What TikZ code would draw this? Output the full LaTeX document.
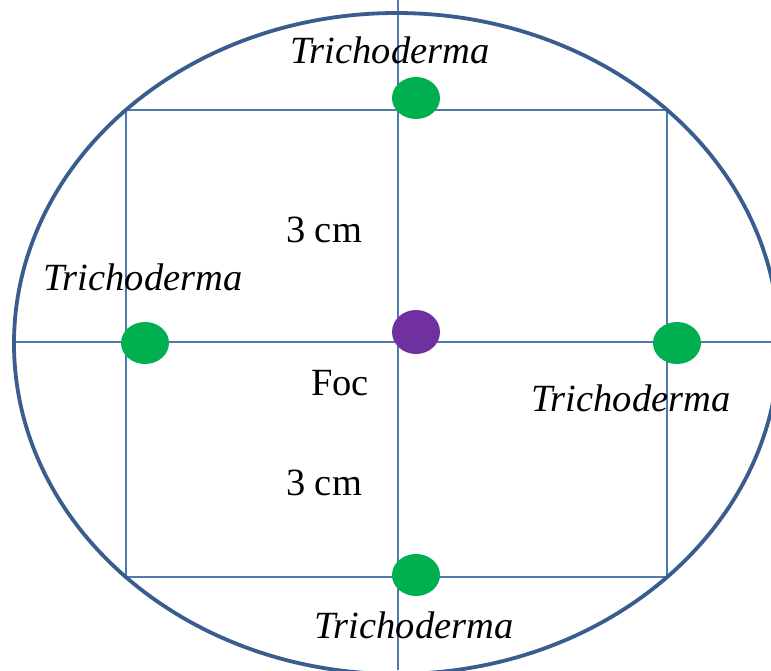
\documentclass[tikz,border=0pt]{standalone}
\usepackage{fontspec}
\setmainfont{Liberation Serif}
\usetikzlibrary{shapes.geometric}
\definecolor{gridblue}{HTML}{5079B0}
\definecolor{rimblue}{HTML}{3A5D8F}
\definecolor{trgreen}{HTML}{00B050}
\definecolor{focpurple}{HTML}{7030A0}
\tikzset{
  gridline/.style={draw=gridblue, line width=1.4pt},
  rim/.style={draw=rimblue, line width=3.8pt},
  greendot/.style={ellipse, fill=trgreen, minimum width=48pt, minimum height=42pt, inner sep=0pt},
  purpledot/.style={ellipse, fill=focpurple, minimum width=48pt, minimum height=44pt, inner sep=0pt},
  lbl/.style={anchor=base, inner sep=0pt, font=\fontsize{38.5}{42}\selectfont},
  ilbl/.style={lbl, font=\fontsize{38.5}{42}\selectfont\itshape}
}
\begin{document}
\begin{tikzpicture}[x=1pt,y=-1pt]
\useasboundingbox (0,0) rectangle (771,670);
\fill[white] (0,0) rectangle (771,670);
\clip (0,0) rectangle (771,670);
% coordinates
\coordinate (vt) at (398,0);
\coordinate (vb) at (398,670);
\coordinate (hl) at (14,342);
\coordinate (hr) at (771,342);
\coordinate (tl) at (126,110);
\coordinate (br) at (667,577);
% grid
\draw[gridline] (vt) -- (vb);
\draw[gridline] (hl) -- (hr);
\draw[gridline] (tl) rectangle (br);
% rim
\draw[rim] (396.5,343.5) ellipse [x radius=382.5, y radius=330.5];
% dots
\node[greendot] (gtop) at (416,98) {};
\node[greendot] (gleft) at (145,343) {};
\node[greendot] (gright) at (677,343) {};
\node[greendot] (gbot) at (416,575) {};
\node[purpledot] (foc) at (416,332) {};
% labels
\node[ilbl] (ttop) at (390,63) {Trichoderma};
\node[ilbl] (tleft) at (143,290) {Trichoderma};
\node[ilbl] (tright) at (631,411) {Trichoderma};
\node[ilbl] (tbot) at (414,638) {Trichoderma};
\node[lbl] (cm1) at (324,242) {3 cm};
\node[lbl] (foclbl) at (340,395) {Foc};
\node[lbl] (cm2) at (324,495) {3 cm};
\end{tikzpicture}
\end{document}
